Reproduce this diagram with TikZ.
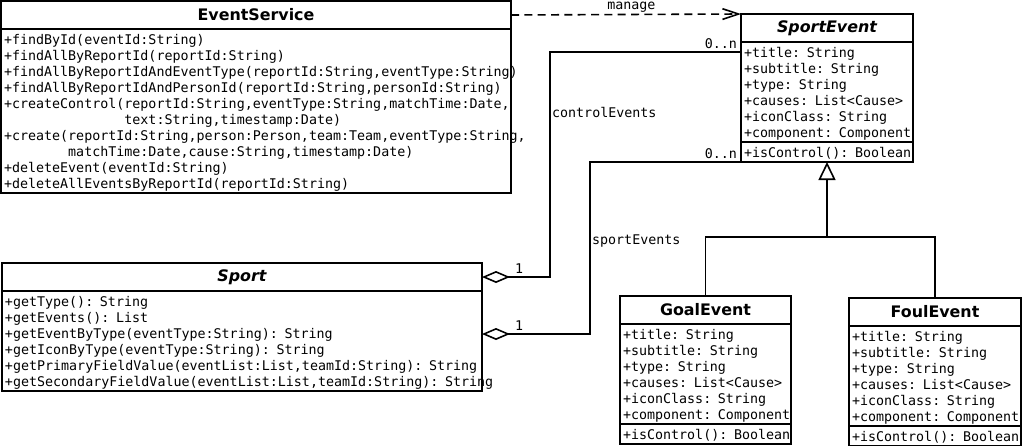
\documentclass[tikz,border=0pt]{standalone}
\usepackage{fontspec}
\setsansfont{DejaVu Sans}
\setmonofont{DejaVu Sans Mono}
\usetikzlibrary{arrows.meta,calc}

\newcommand{\umltitle}{\sffamily\bfseries\fontsize{11.9}{14}\selectfont}
\newcommand{\umlabstract}{\sffamily\bfseries\itshape\fontsize{11.9}{14}\selectfont}
\newcommand{\umltext}{\ttfamily\fontsize{10}{12}\selectfont}
\newcommand{\umlmembers}[1]{\kern0.75pt\raisebox{-1.5pt}[\height][\depth]{\begin{tabular}{@{}l@{}}#1\end{tabular}}}

\tikzset{every picture/.style={line width=1.2pt}}
\tikzset{
	umlhead/.style={draw, anchor=north west, outer sep=0pt, inner sep=0pt, minimum height=21pt, minimum width=#1, font=\umltitle},
	umlbody/.style={draw, anchor=north west, outer sep=0pt, inner xsep=1.5pt, inner ysep=1.5pt, text width=#1, align=left, font=\umltext},
	umllabel/.style={inner sep=1pt, font=\umltext},
	manage/.style={dash pattern=on 6pt off 4pt, -{Straight Barb[length=12pt,width=8pt]}},
	aggr/.style={-{Diamond[open,length=21pt,width=9pt]}},
	inherit/.style={-{Triangle[open,length=13.5pt,width=12.75pt]}}
}

\begin{document}
\begin{tikzpicture}[x=0.75pt,y=0.75pt,yscale=-1]
	\useasboundingbox (0,0) rectangle (1022,446);
	
	%Shape: Class [EventService]
	\node[umlhead=382.5pt] (svc) at (1,1) {EventService};
	\node[umlbody=379.5pt] (svcops) at (svc.south west) {\umlmembers{%
		+findById(eventId:String)\\
		+findAllByReportId(reportId:String)\\
		+findAllByReportIdAndEventType(reportId:String,eventType:String)\\
		+findAllByReportIdAndPersonId(reportId:String,personId:String)\\
		+createControl(reportId:String,eventType:String,matchTime:Date,\\
		\phantom{+createControl(}text:String,timestamp:Date)\\
		+create(reportId:String,person:Person,team:Team,eventType:String,\\
		\phantom{+create(}matchTime:Date,cause:String,timestamp:Date)\\
		+deleteEvent(eventId:String)\\
		+deleteAllEventsByReportId(reportId:String)}};
	
	%Shape: Class [SportEvent]
	\node[umlhead=129pt, font=\umlabstract] (sev) at (741,14) {SportEvent};
	\node[umlbody=126pt] (sevattr) at (sev.south west) {\umlmembers{%
		+title: String\\
		+subtitle: String\\
		+type: String\\
		+causes: List<Cause>\\
		+iconClass: String\\
		+component: Component}};
	\node[umlbody=126pt] (sevops) at (sevattr.south west) {\umlmembers{+isControl(): Boolean}};
	
	%Shape: Class [Sport]
	\node[umlhead=360pt, font=\umlabstract] (sport) at (2,263) {Sport};
	\node[umlbody=357pt] (sportops) at (sport.south west) {\umlmembers{%
		+getType(): String\\
		+getEvents(): List\\
		+getEventByType(eventType:String): String\\
		+getIconByType(eventType:String): String\\
		+getPrimaryFieldValue(eventList:List,teamId:String): String\\
		+getSecondaryFieldValue(eventList:List,teamId:String): String}};
	
	%Shape: Class [GoalEvent]
	\node[umlhead=128.25pt] (goal) at (620,296) {GoalEvent};
	\node[umlbody=125.25pt] (goalattr) at (goal.south west) {\umlmembers{%
		+title: String\\
		+subtitle: String\\
		+type: String\\
		+causes: List<Cause>\\
		+iconClass: String\\
		+component: Component}};
	\node[umlbody=125.25pt] (goalops) at (goalattr.south west) {\umlmembers{+isControl(): Boolean}};
	
	%Shape: Class [FoulEvent]
	\node[umlhead=129pt] (foul) at (849,298) {FoulEvent};
	\node[umlbody=126pt] (foulattr) at (foul.south west) {\umlmembers{%
		+title: String\\
		+subtitle: String\\
		+type: String\\
		+causes: List<Cause>\\
		+iconClass: String\\
		+component: Component}};
	\node[umlbody=126pt] (foulops) at (foulattr.south west) {\umlmembers{+isControl(): Boolean}};
	
	%Straight Lines [manage]
	\draw[manage] (svc.east) -- node[umllabel, above, xshift=4pt] {manage} (sev.north west);
	
	%Straight Lines [controlEvents]
	\coordinate (ctrlin) at ($(sevattr.north west)+(0,10)$);
	\draw[aggr] (ctrlin) -- ++(-191,0) |- node[umllabel, pos=0.135, right] {controlEvents} (sport.east);
	\node[umllabel, anchor=south east] (ctrlmult) at ($(ctrlin)+(-2,-1)$) {0..n};
	\node[umllabel, anchor=south west] (ctrlone) at ($(sport.east)+(31,-1)$) {1};
	
	%Straight Lines [sportEvents]
	\coordinate (sportin) at ($(sportops.north east)+(0,43)$);
	\draw[aggr] (sevops.south west) -- ++(-151,0) |- node[umllabel, pos=0.23, right] {sportEvents} (sportin);
	\node[umllabel, anchor=south east] (sportmult) at ($(sevops.south west)+(-2,-1)$) {0..n};
	\node[umllabel, anchor=south west] (sportone) at ($(sportin)+(31,-1)$) {1};
	
	%Straight Lines [generalization]
	\coordinate (genjoin) at ($(sevops.south)+(0,75)$);
	\draw[inherit] (genjoin) -- (sevops.south);
	\draw (goal.north) |- (genjoin) -| (foul.north);
	
\end{tikzpicture}
\end{document}
